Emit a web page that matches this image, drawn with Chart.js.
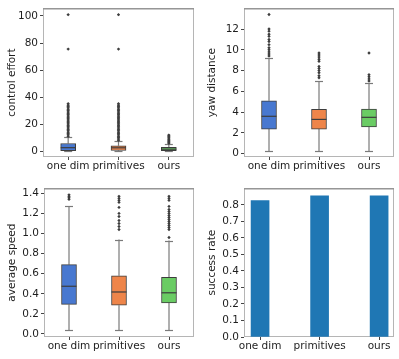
<!DOCTYPE html>
<html>
<head>
<meta charset="utf-8">
<script src="https://cdn.jsdelivr.net/npm/chart.js@4.4.1/dist/chart.umd.min.js"></script>
<style>
  html, body { margin: 0; padding: 0; background: #fff; }
  body { width: 399px; height: 359px; position: relative; overflow: hidden; }
  canvas { position: absolute; }
</style>
</head>
<body>
<canvas id="effort" style="left:0;top:0" width="200" height="180"></canvas>
<canvas id="yaw" style="left:200px;top:0" width="199" height="180"></canvas>
<canvas id="speed" style="left:0;top:180px" width="200" height="179"></canvas>
<canvas id="success" style="left:200px;top:180px" width="199" height="179"></canvas>
<script>
// categories shared by all four panels
const categories = ['one dim', 'primitives', 'ours'];
const boxColors = ['#4878d0', '#ee854a', '#6acc64'];

// control effort
const effortTicks = [0, 20, 40, 60, 80, 100];
const effortLow = [0.0, 0.0, 0.0];
const effortQ1 = [0.3, 0.4, 0.3];
const effortMedian = [2.5, 2.4, 1.4];
const effortQ3 = [5.6, 3.9, 2.7];
const effortHigh = [10.6, 7.4, 5.2];
const effortOutOneDim = [11, 12, 13, 14, 15, 16, 17, 18, 19, 20, 21, 22, 23, 24, 25, 26, 27, 28, 29, 30, 31, 32, 33, 34, 35, 75.5, 101];
const effortOutPrim = [8, 9, 10, 11, 12, 13, 14, 15, 16, 17, 18, 19, 20, 21, 22, 23, 24, 25, 26, 27, 28, 29, 30, 31, 32, 33, 34, 35, 75.5, 101];
const effortOutOurs = [5.8, 6.5, 7.2, 8, 8.8, 9.6, 10.4, 11.2, 11.8];

// yaw distance
const yawTicks = [0, 2, 4, 6, 8, 10, 12];
const yawLow = [0.25, 0.25, 0.25];
const yawQ1 = [2.37, 2.37, 2.57];
const yawMedian = [3.6, 3.3, 3.5];
const yawQ3 = [5.1, 4.27, 4.3];
const yawHigh = [9.2, 7.0, 6.8];
const yawOutOneDim = [9.4, 9.6, 9.8, 10.0, 10.2, 10.5, 10.8, 11.0, 11.3, 11.5, 11.8, 12.0, 13.4];
const yawOutPrim = [7.3, 7.5, 7.8, 8.0, 8.2, 8.4, 8.9, 9.1, 9.3, 9.5, 9.7];
const yawOutOurs = [7.0, 7.2, 7.4, 7.6, 9.7];

// average speed
const speedTicks = [0, 0.2, 0.4, 0.6, 0.8, 1.0, 1.2, 1.4];
const speedLow = [0.036, 0.036, 0.036];
const speedQ1 = [0.294, 0.287, 0.31];
const speedMedian = [0.475, 0.418, 0.41];
const speedQ3 = [0.69, 0.58, 0.563];
const speedHigh = [1.27, 0.94, 0.93];
const speedOutOneDim = [1.34, 1.355, 1.37, 1.385];
const speedOutPrim = [1.04, 1.07, 1.10, 1.13, 1.17, 1.20, 1.26, 1.31, 1.33, 1.35, 1.37];
const speedOutOurs = [0.96, 1.04, 1.06, 1.08, 1.10, 1.12, 1.14, 1.16, 1.18, 1.20, 1.22, 1.24, 1.27, 1.33, 1.35, 1.37];

// success rate
const successTicks = [0, 0.1, 0.2, 0.3, 0.4, 0.5, 0.6, 0.7, 0.8];
const successRate = [0.825, 0.855, 0.855];

const FONT = { family: 'DejaVu Sans', size: 10.5 };
const TEXT = '#1e1e1e';

// frame around the plot area
const framePlugin = {
  id: 'frame',
  beforeDatasetsDraw(chart) {
    const a = chart.chartArea, ctx = chart.ctx;
    ctx.save();
    ctx.lineWidth = 1;
    ctx.strokeStyle = '#b5b5b5';
    ctx.strokeRect(a.left + 0.5, a.top + 0.5, a.right - a.left - 1, a.bottom - a.top - 1);
    ctx.strokeStyle = '#808080';
    ctx.beginPath();
    ctx.moveTo(a.left, a.top + 0.5);
    ctx.lineTo(a.right, a.top + 0.5);
    ctx.stroke();
    ctx.restore();
  }
};

// whiskers, caps and medians, placed with the chart scales
const boxLinesPlugin = {
  id: 'boxLines',
  beforeDatasetsDraw(chart) {
    const ds = chart.data.datasets[0];
    const x = chart.scales.x, y = chart.scales.y, ctx = chart.ctx;
    ctx.save();
    ctx.strokeStyle = '#7a7a7a';
    ctx.lineWidth = 1.2;
    ds.low.forEach((lo, i) => {
      const cx = x.getPixelForValue(i);
      const pairs = [[lo, ds.q1[i]], [ds.q3[i], ds.high[i]]];
      pairs.forEach(p => {
        ctx.beginPath();
        ctx.moveTo(cx, y.getPixelForValue(p[0]));
        ctx.lineTo(cx, y.getPixelForValue(p[1]));
        ctx.stroke();
      });
      [lo, ds.high[i]].forEach(v => {
        const py = Math.round(y.getPixelForValue(v)) + 0.5;
        ctx.beginPath();
        ctx.moveTo(cx - 4, py);
        ctx.lineTo(cx + 4, py);
        ctx.stroke();
      });
    });
    ctx.restore();
  },
  afterDatasetsDraw(chart) {
    const ds = chart.data.datasets[0];
    const x = chart.scales.x, y = chart.scales.y, ctx = chart.ctx;
    ctx.save();
    ctx.strokeStyle = '#3d3d3d';
    ctx.lineWidth = 1.2;
    ds.median.forEach((m, i) => {
      const cx = x.getPixelForValue(i);
      const py = y.getPixelForValue(m);
      ctx.beginPath();
      ctx.moveTo(cx - 7.5, py);
      ctx.lineTo(cx + 7.5, py);
      ctx.stroke();
    });
    ctx.restore();
  }
};

function yAxis(title, min, max, tickValues, width, digits) {
  return {
    min, max,
    border: { display: false },
    grid: { drawOnChartArea: false, drawTicks: true, tickLength: 3, color: '#444' },
    afterBuildTicks: s => { s.ticks = tickValues.map(v => ({ value: v })); },
    ticks: {
      font: FONT, color: TEXT, padding: 2,
      callback: v => Number(v).toFixed(digits)
    },
    title: { display: true, text: title, font: FONT, color: TEXT, padding: { top: 0, bottom: 4 } },
    afterFit: s => { s.width = width; }
  };
}

function makeBoxChart(id, title, min, max, tickValues, digits, width, pad, xHeight,
                      low, q1, median, q3, high, outliers) {
  const outPoints = [];
  outliers.forEach((list, i) => list.forEach(v => outPoints.push({ x: categories[i], y: v })));
  return new Chart(document.getElementById(id), {
    type: 'bar',
    data: {
      labels: categories,
      datasets: [{
        data: q1.map((v, i) => [v, q3[i]]),
        low, q1, median, q3, high,
        backgroundColor: boxColors,
        borderColor: '#3d3d3d',
        borderWidth: 1,
        borderSkipped: false,
        barThickness: 15
      }, {
        type: 'line',
        data: outPoints,
        showLine: false,
        pointStyle: 'rectRot',
        pointRadius: 1.7,
        pointBackgroundColor: '#3d3d3d',
        pointBorderWidth: 0
      }]
    },
    options: {
      responsive: false,
      animation: false,
      layout: { padding: pad },
      plugins: { legend: { display: false }, tooltip: { enabled: false } },
      scales: {
        x: {
          offset: true,
          border: { display: false },
          grid: { drawOnChartArea: false, drawTicks: true, tickLength: 3, color: '#444', offset: false },
          ticks: { font: FONT, color: TEXT, padding: 0, maxRotation: 0, autoSkip: false },
          afterFit: s => { s.height = xHeight; }
        },
        y: yAxis(title, min, max, tickValues, width, digits)
      }
    },
    plugins: [framePlugin, boxLinesPlugin]
  });
}

makeBoxChart('effort', 'control effort', -4.4, 105.7, effortTicks, 0, 37,
  { left: 6, right: 6, top: 8, bottom: 0 }, 23,
  effortLow, effortQ1, effortMedian, effortQ3, effortHigh,
  [effortOutOneDim, effortOutPrim, effortOutOurs]);

makeBoxChart('yaw', 'yaw distance', -0.32, 14.0, yawTicks, 0, 38,
  { left: 6, right: 5, top: 8, bottom: 0 }, 23,
  yawLow, yawQ1, yawMedian, yawQ3, yawHigh,
  [yawOutOneDim, yawOutPrim, yawOutOurs]);

makeBoxChart('speed', 'average speed', -0.03, 1.45, speedTicks, 1, 38,
  { left: 6, right: 6, top: 7, bottom: 0 }, 22,
  speedLow, speedQ1, speedMedian, speedQ3, speedHigh,
  [speedOutOneDim, speedOutPrim, speedOutOurs]);

// success rate bars on a numeric x axis so the bar spacing matches
new Chart(document.getElementById('success'), {
  type: 'bar',
  data: {
    datasets: [{
      data: successRate.map((v, i) => ({ x: i, y: v })),
      backgroundColor: '#1f77b4',
      barThickness: 18
    }]
  },
  options: {
    responsive: false,
    animation: false,
    layout: { padding: { left: 6, right: 5, top: 7, bottom: 0 } },
    plugins: { legend: { display: false }, tooltip: { enabled: false } },
    scales: {
      x: {
        type: 'linear', min: -0.27, max: 2.25, offset: false,
        border: { display: false },
        grid: { drawOnChartArea: false, drawTicks: true, tickLength: 3, color: '#444', offset: false },
        afterBuildTicks: s => { s.ticks = categories.map((c, i) => ({ value: i })); },
        ticks: { font: FONT, color: TEXT, padding: 0, maxRotation: 0, autoSkip: false,
                 callback: v => categories[v] },
        afterFit: s => { s.height = 22; }
      },
      y: yAxis('success rate', 0, 0.9, successTicks, 38, 1)
    }
  },
  plugins: [framePlugin]
});
</script>
</body>
</html>
